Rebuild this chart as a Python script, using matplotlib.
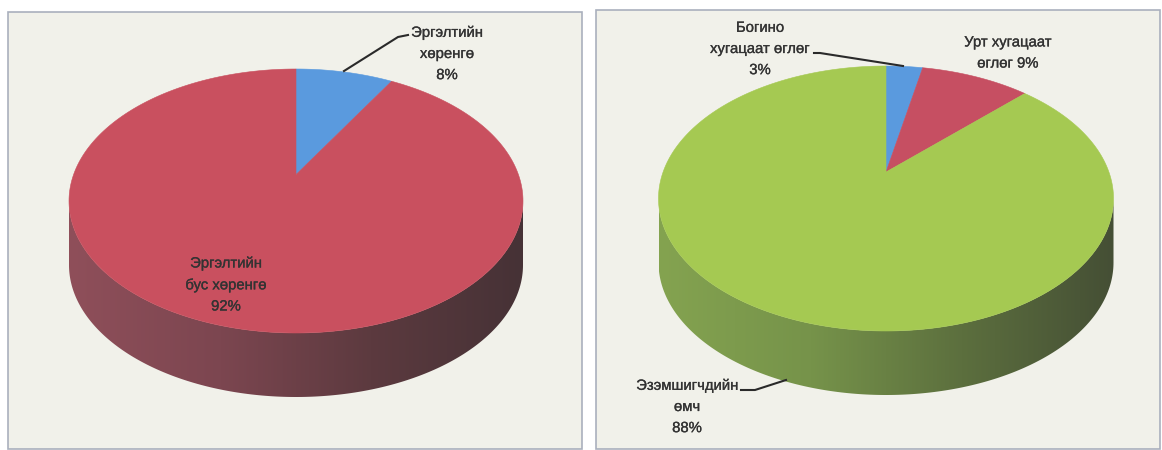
import numpy as np
import matplotlib
matplotlib.use("Agg")
import matplotlib.pyplot as plt
import matplotlib.patheffects as pe
from matplotlib.colors import LinearSegmentedColormap
from matplotlib.patches import Polygon, Rectangle

plt.rcParams['font.family'] = ['Liberation Sans', 'DejaVu Sans']

# left chart
left_values = [8, 92]
left_labels = ["Эргэлтийн\nхөренгө\n8%", "Эргэлтийн\nбус хөренгө\n92%"]
left_colors = ["#5a9ade", "#c9505f"]

# right chart
right_values = [3, 9, 88]
right_labels = ["Богино\nхугацаат өглөг\n3%", "Урт хугацаат\nөглөг 9%", "Эзэмшигчдийн\nөмч\n88%"]
right_colors = ["#5a9ade", "#c64f62", "#a5c952"]

PERSP = 0.15 # tilt of the disc, bends the wedge edges
APEX = 0.2 # how far the apex sits above the ellipse centre, in units of b
PAPER = "#f1f1ea"
FRAME = "#aab0bd"
TEXT = "#333333"


def rim(theta):
    # circle point (clockwise from top) pushed through the tilt of the disc
    x = np.sin(theta)
    y = np.cos(theta)
    k = 1 + PERSP * y
    return x * np.sqrt(1 - PERSP ** 2) / k, (y + PERSP) / k


def draw_pie(ax, values, colors, cx, cy, a, b, depth, side_colors):
    # side wall first, only the front half shows
    t = np.linspace(np.pi, 2 * np.pi, 200)
    ex = cx + a * np.cos(t)
    ey = cy - b * np.sin(t)
    wall = np.vstack([np.column_stack([ex, ey]),
                      np.column_stack([ex[::-1], ey[::-1] + depth])])
    cmap = LinearSegmentedColormap.from_list("side", side_colors)
    grad = ax.imshow(np.linspace(0, 1, 256).reshape(1, -1), cmap=cmap, aspect="auto",
                     extent=(cx - a, cx + a, cy + b + depth, cy), zorder=2)
    patch = Polygon(wall, closed=True, fc="none", ec="none", zorder=2)
    ax.add_patch(patch)
    grad.set_clip_path(patch)

    # top face
    fracs = np.cumsum([0] + list(values)) / sum(values)
    for i, c in enumerate(colors):
        th = np.linspace(fracs[i], fracs[i + 1], 300) * 2 * np.pi
        px, py = rim(th)
        apex = [[cx, cy - APEX * b]]
        pts = np.column_stack([cx + a * px, cy - b * py])
        ax.add_patch(Polygon(np.vstack([apex, pts]), closed=True, fc=c, ec=c, lw=0.4, zorder=3))


fig = plt.figure(figsize=(11.62, 4.5), dpi=100, facecolor="white")
ax = fig.add_axes([0, 0, 1, 1])
ax.set_xlim(0, 1162)
ax.set_ylim(450, 0)
ax.axis("off")

ax.add_patch(Rectangle((8, 12), 574, 437, fc=PAPER, ec=FRAME, lw=1.2, zorder=1))
ax.add_patch(Rectangle((596, 10), 564, 439, fc=PAPER, ec=FRAME, lw=1.2, zorder=1))

draw_pie(ax, left_values, left_colors, 296, 201, 227, 132, 64,
         ["#8f4f5a", "#7c4650", "#5c3a3f", "#463236"])
draw_pie(ax, right_values, right_colors, 886, 198.5, 227.5, 132.5, 64,
         ["#84a350", "#76934a", "#5c6f3e", "#454f35"])

# leader lines
ax.plot([344, 398, 408], [71, 37, 35], color="#2a2a2a", lw=1.5, zorder=4)
ax.plot([814, 820, 903], [53, 53, 66], color="#2a2a2a", lw=1.5, zorder=4)
ax.plot([741, 755, 786], [390, 390, 380], color="#2a2a2a", lw=1.5, zorder=4)

label_style = dict(ha="center", va="center", fontsize=10.7, color=TEXT, linespacing=1.65, zorder=5,
                   path_effects=[pe.withStroke(linewidth=0.2, foreground=TEXT)])
ax.text(447, 54, left_labels[0], **label_style)
ax.text(226, 285, left_labels[1], **label_style)
ax.text(760, 49, right_labels[0], **label_style)
ax.text(1008, 53, right_labels[1], **label_style)
ax.text(687, 407, right_labels[2], **label_style)

fig.savefig("out.png", dpi=100)
